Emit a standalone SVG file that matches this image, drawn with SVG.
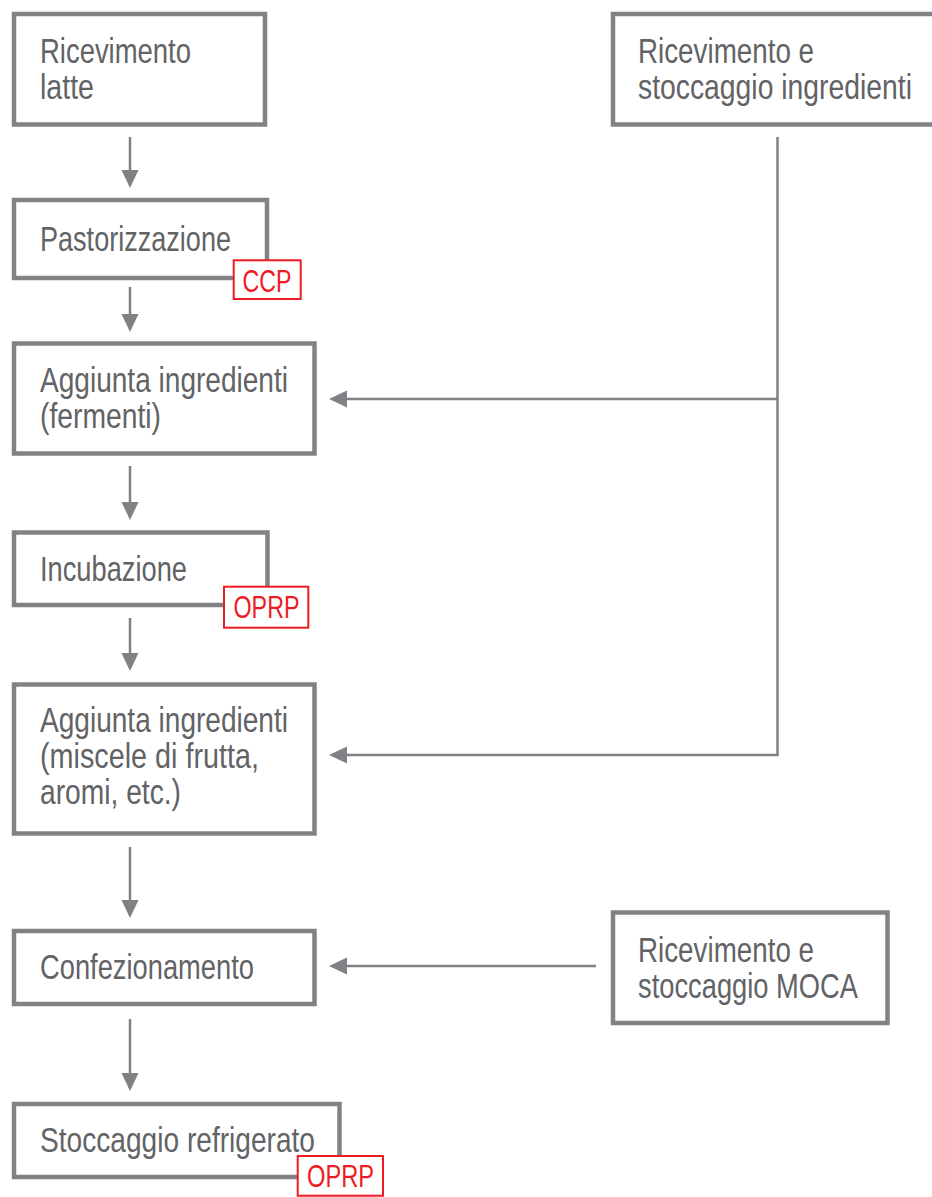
<svg xmlns="http://www.w3.org/2000/svg" width="932" height="1197" viewBox="0 0 932 1197">
  <style>
    .box { fill: #ffffff; stroke: #818285; stroke-width: 4.5; }
    .tag { fill: #ffffff; stroke: #ed1c24; stroke-width: 2; }
    .lbl { font-family: "Liberation Sans", Arial, sans-serif; font-size: 34.5px; fill: #626366; }
    .tagt { font-family: "Liberation Sans", Arial, sans-serif; font-size: 32px; fill: #ed1c24; }
    .wire { fill: none; stroke: #808184; stroke-width: 2.5; }
  </style>
  <defs>
    <marker id="head" markerUnits="userSpaceOnUse" markerWidth="18" markerHeight="18" viewBox="0 0 18 18" refX="15" refY="8.5" orient="auto">
      <path d="M0,0 L18,8.5 L0,17 Z" fill="#808184"/>
    </marker>
  </defs>

  <rect width="932" height="1197" fill="#ffffff"/>

  <!-- flow connectors -->
  <g id="connectors">
    <path class="wire" d="M130,137 V185" marker-end="url(#head)"/>
    <path class="wire" d="M130,287 V329" marker-end="url(#head)"/>
    <path class="wire" d="M130,466 V517" marker-end="url(#head)"/>
    <path class="wire" d="M130,618 V668" marker-end="url(#head)"/>
    <path class="wire" d="M130,847 V915" marker-end="url(#head)"/>
    <path class="wire" d="M130,1019 V1088" marker-end="url(#head)"/>
    <path class="wire" d="M777.5,399 H332" marker-end="url(#head)"/>
    <path class="wire" d="M777.5,137 V755 H332" marker-end="url(#head)"/>
    <path class="wire" d="M596,966 H332" marker-end="url(#head)"/>
  </g>

  <g id="ricevimento-latte">
    <rect class="box" x="14" y="14" width="251" height="110.5"/>
    <text class="lbl" x="40" y="63" textLength="151" lengthAdjust="spacingAndGlyphs">Ricevimento</text>
    <text class="lbl" x="40" y="99" textLength="54" lengthAdjust="spacingAndGlyphs">latte</text>
  </g>

  <g id="pastorizzazione">
    <rect class="box" x="14" y="200" width="253" height="78"/>
    <text class="lbl" x="40" y="251" textLength="191" lengthAdjust="spacingAndGlyphs">Pastorizzazione</text>
    <g id="ccp-1">
      <rect class="tag" x="233.7" y="260.3" width="67" height="38.7"/>
      <text class="tagt" x="242.5" y="291.5" textLength="49" lengthAdjust="spacingAndGlyphs">CCP</text>
    </g>
  </g>

  <g id="aggiunta-fermenti">
    <rect class="box" x="14" y="343.5" width="300.5" height="110"/>
    <text class="lbl" x="40" y="392" textLength="248" lengthAdjust="spacingAndGlyphs">Aggiunta ingredienti</text>
    <text class="lbl" x="40" y="428" textLength="121" lengthAdjust="spacingAndGlyphs">(fermenti)</text>
  </g>

  <g id="incubazione">
    <rect class="box" x="14" y="532.5" width="253.5" height="72.5"/>
    <text class="lbl" x="40" y="581" textLength="147" lengthAdjust="spacingAndGlyphs">Incubazione</text>
    <g id="oprp-1">
      <rect class="tag" x="224" y="586.7" width="84.3" height="41"/>
      <text class="tagt" x="233.5" y="618" textLength="66" lengthAdjust="spacingAndGlyphs">OPRP</text>
    </g>
  </g>

  <g id="aggiunta-frutta">
    <rect class="box" x="14" y="684.5" width="300.5" height="149"/>
    <text class="lbl" x="40" y="732" textLength="248" lengthAdjust="spacingAndGlyphs">Aggiunta ingredienti</text>
    <text class="lbl" x="40" y="768" textLength="219" lengthAdjust="spacingAndGlyphs">(miscele di frutta,</text>
    <text class="lbl" x="40" y="804" textLength="141" lengthAdjust="spacingAndGlyphs">aromi, etc.)</text>
  </g>

  <g id="confezionamento">
    <rect class="box" x="14" y="931" width="300.5" height="73"/>
    <text class="lbl" x="40" y="979" textLength="214" lengthAdjust="spacingAndGlyphs">Confezionamento</text>
  </g>

  <g id="stoccaggio-refrigerato">
    <rect class="box" x="14" y="1104" width="325.5" height="73"/>
    <text class="lbl" x="40" y="1152" textLength="275" lengthAdjust="spacingAndGlyphs">Stoccaggio refrigerato</text>
    <g id="oprp-2">
      <rect class="tag" x="297.7" y="1156" width="85.3" height="39.7"/>
      <text class="tagt" x="307" y="1187" textLength="67" lengthAdjust="spacingAndGlyphs">OPRP</text>
    </g>
  </g>

  <!-- box runs past the right edge of the sheet -->
  <g id="ricevimento-ingredienti">
    <rect class="box" x="613" y="14" width="330" height="110.5"/>
    <text class="lbl" x="638" y="63" textLength="176" lengthAdjust="spacingAndGlyphs">Ricevimento e</text>
    <text class="lbl" x="638" y="99" textLength="274" lengthAdjust="spacingAndGlyphs">stoccaggio ingredienti</text>
  </g>

  <g id="ricevimento-moca">
    <rect class="box" x="613" y="912.5" width="274.5" height="110.5"/>
    <text class="lbl" x="638" y="962" textLength="176" lengthAdjust="spacingAndGlyphs">Ricevimento e</text>
    <text class="lbl" x="638" y="998" textLength="220" lengthAdjust="spacingAndGlyphs">stoccaggio MOCA</text>
  </g>
</svg>
